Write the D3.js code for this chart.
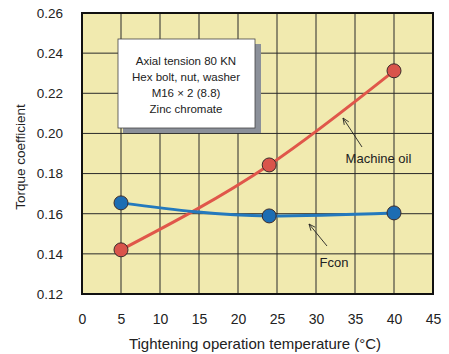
<!DOCTYPE html>
<html><head><meta charset="utf-8">
<script src="https://cdn.jsdelivr.net/npm/d3@7"></script>
<style>
body{margin:0;background:#fff;}
text{font-family:"Liberation Sans",Arial,Helvetica,sans-serif;fill:#222;}
</style></head>
<body><svg id="c" width="449" height="354"></svg>
<script>
const temps = [5, 24, 40];
const machineOil = [0.142, 0.1843, 0.2312];
const fcon = [0.1654, 0.1589, 0.1604];
const xTicks = [0,5,10,15,20,25,30,35,40,45];
const yTicks = [0.12,0.14,0.16,0.18,0.20,0.22,0.24,0.26];
const boxLines = ["Axial tension 80 KN","Hex bolt, nut, washer","M16 \u00d7 2 (8.8)","Zinc chromate"];

const svg = d3.select("#c");
const L=82,R=433,T=13,B=294;
const x = d3.scaleLinear().domain([0,45]).range([L,R]);
const y = d3.scaleLinear().domain([0.12,0.26]).range([B,T]);

svg.append("rect").attr("x",L).attr("y",T).attr("width",R-L).attr("height",B-T).attr("fill","#f1eaaf");
// grid
svg.append("g").selectAll("line").data(xTicks.slice(1,-1)).join("line")
  .attr("x1",d=>x(d)).attr("x2",d=>x(d)).attr("y1",T).attr("y2",B).attr("stroke","#2a2a2a").attr("stroke-width",1);
svg.append("g").selectAll("line").data(yTicks.slice(1,-1)).join("line")
  .attr("y1",d=>y(d)).attr("y2",d=>y(d)).attr("x1",L).attr("x2",R).attr("stroke","#2a2a2a").attr("stroke-width",1);
svg.append("rect").attr("x",L).attr("y",T).attr("width",R-L).attr("height",B-T).attr("fill","none").attr("stroke","#111").attr("stroke-width",2);

// axes labels
const xa = d3.axisBottom(x).tickValues(xTicks).tickSize(0).tickPadding(20).tickFormat(d3.format("d"));
const gx = svg.append("g").attr("transform",`translate(0,${B})`).call(xa);
gx.select(".domain").remove();
gx.selectAll("text").attr("font-size",14).attr("font-family","Liberation Sans, Arial, sans-serif").attr("fill","#222");
const ya = d3.axisLeft(y).tickValues(yTicks).tickSize(0).tickPadding(19).tickFormat(d3.format(".2f"));
const gy = svg.append("g").attr("transform",`translate(${L},0)`).call(ya);
gy.select(".domain").remove();
gy.selectAll("text").attr("font-size",13.5).attr("font-family","Liberation Sans, Arial, sans-serif").attr("fill","#222");

svg.append("text").attr("x",255).attr("y",349).attr("text-anchor","middle").attr("font-size",15).text("Tightening operation temperature (\u00b0C)");
svg.append("text").attr("transform",`translate(25,157) rotate(-90)`).attr("text-anchor","middle").attr("font-size",13.5).text("Torque coefficient");

// annotation box
svg.append("rect").attr("x",123).attr("y",44).attr("width",138).attr("height",89).attr("fill","#8b9099");
svg.append("rect").attr("x",118).attr("y",39).attr("width",137).attr("height",89).attr("fill","#fff").attr("stroke","#444").attr("stroke-width",0.8);
svg.append("g").selectAll("text").data(boxLines).join("text")
  .attr("x",186).attr("y",(d,i)=>65+i*16).attr("text-anchor","middle").attr("font-size",11.5).text(d=>d);

// lines
const line = d3.line().x(d=>x(d[0])).y(d=>y(d[1])).curve(d3.curveMonotoneX);
const series = [{v:machineOil,c:"#e0574a",f:"#d9544b"},{v:fcon,c:"#2479bd",f:"#1d6db3"}];
series.forEach(s=>{
  const pts = temps.map((t,i)=>[t,s.v[i]]);
  svg.append("path").datum(pts).attr("d",line).attr("fill","none").attr("stroke",s.c).attr("stroke-width",3);
});
series.forEach(s=>{
  svg.append("g").selectAll("circle").data(temps.map((t,i)=>[t,s.v[i]])).join("circle")
    .attr("cx",d=>x(d[0])).attr("cy",d=>y(d[1])).attr("r",7).attr("fill",s.f).attr("stroke","#3a2a2a").attr("stroke-width",1);
});

// callouts
function arrow(x1,y1,x2,y2){
  svg.append("line").attr("x1",x1).attr("y1",y1).attr("x2",x2).attr("y2",y2).attr("stroke","#222").attr("stroke-width",0.9);
  const a=Math.atan2(y2-y1,x2-x1), h=7, w=0.4;
  [a+Math.PI-w,a+Math.PI+w].forEach(b=>{
    svg.append("line").attr("x1",x2).attr("y1",y2).attr("x2",x2+h*Math.cos(b)).attr("y2",y2+h*Math.sin(b)).attr("stroke","#222").attr("stroke-width",0.9);
  });
}
arrow(362,147,343,118);
svg.append("text").attr("x",378.5).attr("y",163).attr("text-anchor","middle").attr("font-size",13).text("Machine oil");
arrow(327,246,309,224);
svg.append("text").attr("x",334).attr("y",267).attr("text-anchor","middle").attr("font-size",13).text("Fcon");
</script></body></html>
